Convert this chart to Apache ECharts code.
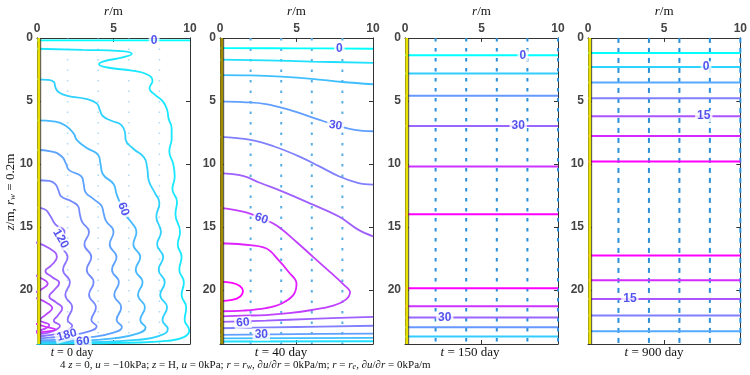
<!DOCTYPE html>
<html><head><meta charset="utf-8">
<script src="https://cdn.jsdelivr.net/npm/echarts@6/dist/echarts.min.js"></script>
<style>html,body{margin:0;padding:0;background:#fff}#c{width:750px;height:375px}</style>
</head><body><div id="c"></div>
<script>
// ---------- data ----------
const Z_MAX = 24.3;
const R_MAX = 10;
const Y_TICKS = [0, 5, 10, 15, 20];
const PANEL_TITLES = ['t = 0 day', 't = 40 day', 't = 150 day', 't = 900 day'];
const ARROW_R_12 = [2, 4, 6, 8];
const ARROW_R_34 = [2, 4, 6, 8, 10];
const WELL_FILL_R = 0.12;
const WELL_EDGE_R = 0.24;

// panel 1 (t = 0 day) contour lines, points [r, z]
const P1_L0 = [[0,0.2],[10,0.2]];
const P1_L20 = [[0,0.86],[3,0.95],[5.5,1.05],[6.2,1.25],[5.6,1.55],[4.4,1.85],[4.05,2.1],[4.6,2.35],[6.2,2.6],[7.1,2.85],[7.55,3.4],[7.35,4.0],[7.7,4.5],[8.2,5.0],[8.5,5.7],[8.6,6.4],[8.8,7.2],[8.8,8.0],[8.65,9.0],[8.9,10.0],[9.0,11.0],[8.85,12.0],[9.15,13.0],[9.05,14.0],[9.35,15.4],[9.2,16.4],[9.45,17.4],[9.3,18.4],[9.6,19.4],[9.45,20.4],[9.75,21.4],[9.65,22.4],[9.95,23.2],[9.6,23.75],[8.5,24.05],[6,24.2],[3,24.25],[0,24.28]];
const P1_L40 = [[0,3.3],[0.7,3.33],[1.1,3.5],[1.2,3.9],[1.4,4.3],[2.0,4.6],[3.2,4.85],[3.9,5.2],[4.1,5.7],[4.3,6.2],[4.9,6.6],[5.5,6.9],[5.75,7.5],[5.8,8.1],[6.3,8.8],[7.0,9.5],[7.2,10.3],[7.3,11.3],[7.7,12.3],[8.0,13.1],[7.8,14.2],[8.1,15.4],[7.85,16.4],[8.25,17.4],[7.95,18.4],[8.35,19.4],[8.05,20.4],[8.5,21.4],[8.2,22.4],[8.55,23.1],[8.0,23.65],[6.5,23.98],[3.5,24.15],[0,24.2]];
const P1_L60 = [[0,6.55],[1.2,6.65],[1.9,7.0],[2.4,7.6],[2.6,8.1],[3.2,8.7],[4.0,9.3],[4.15,10.0],[4.3,10.8],[5.0,11.6],[5.2,12.4],[5.45,13.2],[5.6,13.8],[6.2,14.7],[6.5,15.4],[6.3,16.4],[6.75,17.4],[6.45,18.4],[6.9,19.4],[6.6,20.4],[7.05,21.4],[6.75,22.4],[7.1,23.0],[6.5,23.5],[5,23.85],[2.5,24.05],[0,24.1]];
const P1_L80 = [[0,8.9],[0.9,9.0],[1.6,9.4],[1.9,10.0],[2.1,10.5],[2.9,11.0],[3.05,11.6],[3.15,12.2],[3.7,12.8],[4.2,13.3],[4.35,13.9],[4.5,14.5],[5.0,15.4],[4.75,16.4],[5.2,17.4],[4.9,18.4],[5.35,19.4],[5.05,20.4],[5.5,21.4],[5.2,22.4],[5.55,22.95],[5.0,23.4],[3.5,23.75],[1.5,23.95],[0,24.0]];
const P1_L100 = [[0,11.3],[0.8,11.35],[1.2,11.6],[1.4,12.1],[1.6,12.6],[2.3,13.0],[2.7,13.4],[2.8,14.0],[2.95,14.6],[3.4,15.4],[3.1,16.4],[3.55,17.4],[3.25,18.4],[3.7,19.4],[3.4,20.4],[3.85,21.4],[3.55,22.4],[3.9,22.9],[3.4,23.3],[2.2,23.6],[0.8,23.8],[0,23.85]];
const P1_L120 = [[0,13.5],[0.5,13.6],[0.85,14.1],[1.2,14.8],[1.8,15.4],[1.55,16.4],[2.0,17.4],[1.7,18.4],[2.15,19.4],[1.85,20.4],[2.3,21.4],[2.0,22.4],[2.3,22.85],[1.8,23.3],[0.8,23.6],[0,23.7]];
const P1_L140 = [[-0.2,16.2],[0.8,16.7],[1.3,17.4],[0.9,18.1],[0.55,18.5],[1.0,19.0],[1.45,19.45],[1.1,20.05],[0.8,20.5],[1.25,21.0],[1.65,21.45],[1.35,22.05],[1.1,22.45],[1.5,22.85],[1.1,23.25],[0.3,23.5],[0,23.55]];
const P1_L160 = [[-0.6,18.6],[0.3,19.1],[0.7,19.5],[0.3,19.95],[-0.3,20.4],[0.6,21.0],[1.0,21.45],[0.6,21.95],[0.2,22.4],[0.8,22.8],[0.5,23.1],[-0.2,23.3]];
const P1_L180 = [[-0.3,22.6],[0.6,22.95],[1.2,23.15],[0.7,23.3],[-0.3,23.4]];
const P1_LEVELS = [0, 20, 40, 60, 80, 100, 120, 140, 160, 180];
const P1_LINES = [P1_L0, P1_L20, P1_L40, P1_L60, P1_L80, P1_L100, P1_L120, P1_L140, P1_L160, P1_L180];

// panel 2 (t = 40 day)
const P2_L0 = [[0,0.81],[5,0.83],[10,0.86]];
const P2_L10 = [[0,1.72],[3,1.78],[6,1.88],[10,1.98]];
const P2_L20 = [[0,2.95],[2,2.98],[4,3.08],[6,3.25],[8,3.5],[10,3.68]];
const P2_L30 = [[0,5.04],[1.5,5.1],[3,5.25],[4.5,5.7],[6.3,6.42],[7.6,6.94],[8.8,7.3],[10,7.41]];
const P2_L40 = [[0,7.86],[2,8.1],[3.5,8.6],[5.2,9.42],[6.5,10.2],[7.8,11.0],[9,11.5],[10,11.64]];
const P2_L50A = [[0,10.73],[1.5,10.95],[2.6,11.5],[4.1,12.2],[6,13.2],[7.8,14.2],[9,15.2],[10,15.75]];
const P2_L60 = [[0,13.5],[1.5,13.8],[2.7,14.3],[3.7,14.9],[5,16.2],[6.1,17.4],[7.2,18.6],[8.1,19.6],[8.5,20.2],[8.2,20.8],[7.4,21.25],[6,21.6],[4.5,21.85],[3,22.0],[1.5,22.05],[0,22.1]];
const P2_L70 = [[0,16.3],[1.5,16.4],[3.0,16.7],[3.8,17.6],[4.5,18.6],[5.0,19.5],[4.8,20.4],[4.0,21.1],[3.0,21.45],[1.5,21.65],[0,21.7]];
const P2_L80 = [[0,19.35],[0.8,19.45],[1.3,19.7],[1.5,20.1],[1.3,20.55],[0.8,20.8],[0,20.9]];
const P2_L50B = [[0,22.55],[3,22.45],[6,22.3],[10,22.15]];
const P2_L40B = [[0,23.05],[5,22.95],[10,22.85]];
const P2_L30B = [[0,23.57],[5,23.52],[10,23.47]];
const P2_L20B = [[0,23.85],[10,23.82]];
const P2_L10B = [[0,24.1],[10,24.08]];
const P2_LEVELS = [0, 10, 20, 30, 40, 50, 60, 70, 80, 50, 40, 30, 20, 10];
const P2_LINES = [P2_L0, P2_L10, P2_L20, P2_L30, P2_L40, P2_L50A, P2_L60, P2_L70, P2_L80, P2_L50B, P2_L40B, P2_L30B, P2_L20B, P2_L10B];

// panel 3 (t = 150 day): horizontal contours
const P3_LEVELS = [0, 10, 20, 30, 40, 50, 50, 40, 30, 20, 10];
const P3_DEPTHS = [1.38, 2.82, 4.6, 7.0, 10.2, 14.0, 19.87, 21.3, 22.2, 22.97, 23.7];

// panel 4 (t = 900 day): horizontal contours
const P4_LEVELS = [-5, 0, 5, 10, 15, 20, 25, 25, 20, 15, 10, 5];
const P4_DEPTHS = [1.2, 2.32, 3.55, 4.8, 6.21, 7.78, 9.81, 17.28, 19.24, 20.73, 22.03, 23.28];

// contour labels [text, r, z, rotation]
const P1_LABELS = [['0',7.65,0.2,0],['60',5.65,13.6,-70],['120',1.55,15.95,-60],['180',1.95,23.6,15],['60',3.0,24.1,5]];
const P2_LABELS = [['0',7.8,0.83,0],['30',7.55,6.95,-8],['60',2.7,14.35,-20],['60',1.5,22.6,5],['30',2.7,23.55,0]];
const P3_LABELS = [['0',7.7,1.38,0],['30',7.4,7.0,0],['30',2.6,22.2,0]];
const P4_LABELS = [['0',7.75,2.32,0],['15',7.6,6.21,0],['15',2.75,20.73,0]];

// ---------- layout / style ----------
const GRID_LEFT = [37, 220, 405, 588];
const GRID_TOP = 33, GRID_W = 153, GRID_H = 311;
const CMAP = [[0,220],[0,80],[0,50],[-5,25]];
const SMOOTH = [0.5, 0.4, 0, 0];
const WELL_COLOR = ['#e8dc00', '#a08c00', '#e8e000', '#e8e000'];
const DOT_STYLE = [
  {color:'rgba(110,185,235,0.55)', width:1.5, type:[1.5,9]},
  {color:'#5aaee6', width:2, type:[2.5,8]},
  {color:'#2a8fd8', width:2, type:[3.5,6.5]},
  {color:'#2a8fd8', width:2, type:[5,5]}
];
const SERIF = "'Liberation Serif','DejaVu Serif',serif";
const SANS = "'Liberation Sans','DejaVu Sans',sans-serif";

function cool(v, lo, hi) {
  const t = Math.max(0, Math.min(1, (v - lo) / (hi - lo)));
  return 'rgb(' + Math.round(255 * t) + ',' + Math.round(255 * (1 - t)) + ',255)';
}
function rich(fs) {
  return {
    i: {fontStyle:'italic', fontFamily:SERIF, fontSize:fs, color:'#111'},
    s: {fontStyle:'italic', fontFamily:SERIF, fontSize:Math.round(fs*0.7), color:'#111', verticalAlign:'bottom'}
  };
}

const grid = [], xAxis = [], yAxis = [], series = [];
const axisCommon = {
  axisLine:{show:true, onZero:false, lineStyle:{color:'#333', width:1}},
  axisTick:{show:true, inside:true, length:4, lineStyle:{color:'#333'}},
  splitLine:{show:false}
};
for (let i = 0; i < 4; i++) {
  grid.push({left:GRID_LEFT[i], top:GRID_TOP, width:GRID_W, height:GRID_H});
  xAxis.push(Object.assign({gridIndex:i, type:'value', position:'top', min:0, max:R_MAX, interval:5,
    axisLabel:{margin:3, color:'#444', fontSize:12, fontWeight:'bold', fontFamily:SANS},
    name:'{i|r}/m', nameLocation:'middle', nameGap:19,
    nameTextStyle:{fontFamily:SERIF, fontSize:13, color:'#111', rich:rich(13)}}, axisCommon));
  xAxis.push(Object.assign({gridIndex:i, type:'value', position:'bottom', min:0, max:R_MAX, interval:5,
    axisLabel:{show:false}}, axisCommon));
  yAxis.push(Object.assign({gridIndex:i, type:'value', inverse:true, position:'left', min:0, max:Z_MAX, interval:5,
    axisLabel:{margin:4, color:'#444', fontSize:12, fontWeight:'bold', fontFamily:SANS,
      formatter: v => (Y_TICKS.indexOf(v) >= 0 ? String(v) : '')}}, axisCommon));
  yAxis.push(Object.assign({gridIndex:i, type:'value', inverse:true, position:'right', min:0, max:Z_MAX, interval:5,
    axisLabel:{show:false}}, axisCommon));
}

function addLine(i, pts, color, width) {
  series.push({type:'line', xAxisIndex:2*i, yAxisIndex:2*i, data:pts, symbol:'none',
    smooth:SMOOTH[i], silent:true, clip:true, z:3, lineStyle:{color:color, width:width}});
}

// dotted velocity columns and the drain well strip
const ARROWS = [ARROW_R_12, ARROW_R_12, ARROW_R_34, ARROW_R_34];
for (let i = 0; i < 4; i++) {
  ARROWS[i].forEach(r => {
    series.push({type:'line', xAxisIndex:2*i, yAxisIndex:2*i, data:[[r,0],[r,Z_MAX]], symbol:'none',
      silent:true, z:2, lineStyle:DOT_STYLE[i]});
  });
  series.push({type:'line', xAxisIndex:2*i, yAxisIndex:2*i, data:[[WELL_FILL_R,0],[WELL_FILL_R,Z_MAX]], symbol:'none',
    silent:true, z:6, lineStyle:{color:WELL_COLOR[i], width:3}});
  series.push({type:'line', xAxisIndex:2*i, yAxisIndex:2*i, data:[[WELL_EDGE_R,0],[WELL_EDGE_R,Z_MAX]], symbol:'none',
    silent:true, z:6, lineStyle:{color:'#222', width:0.8}});
}

P1_LINES.forEach((pts, k) => addLine(0, pts, cool(P1_LEVELS[k], CMAP[0][0], CMAP[0][1]), 1.8));
P2_LINES.forEach((pts, k) => addLine(1, pts, cool(P2_LEVELS[k], CMAP[1][0], CMAP[1][1]), 1.8));
P3_DEPTHS.forEach((d, k) => addLine(2, [[0,d],[R_MAX,d]], cool(P3_LEVELS[k], CMAP[2][0], CMAP[2][1]), 2));
P4_DEPTHS.forEach((d, k) => addLine(3, [[0,d],[R_MAX,d]], cool(P4_LEVELS[k], CMAP[3][0], CMAP[3][1]), 2));

[P1_LABELS, P2_LABELS, P3_LABELS, P4_LABELS].forEach((labs, i) => {
  series.push({type:'scatter', xAxisIndex:2*i, yAxisIndex:2*i, symbolSize:1, silent:true, z:8,
    itemStyle:{color:'rgba(0,0,0,0)'},
    label:{show:true, position:'inside', color:'#2b2bea', fontSize:12, fontWeight:'bold', fontFamily:SANS,
      backgroundColor:'#fff', padding:[0,2]},
    data: labs.map(l => ({value:[l[1], l[2]], label:{formatter:l[0], rotate:l[3]}}))
  });
});

const TITLE_X = [72, 281, 470, 654];
const graphic = [];
PANEL_TITLES.forEach((t, i) => {
  graphic.push({type:'text', x:TITLE_X[i], y:353, silent:true,
    style:{text:t.replace(/^t/, '{i|t}'), fontFamily:SERIF, fontSize:i === 0 ? 12 : 13, fill:'#111',
      rich:rich(i === 0 ? 12 : 13), align:'center', verticalAlign:'middle', textAlign:'center', textVerticalAlign:'middle'}});
});
graphic.push({type:'text', x:60, y:365, silent:true,
  style:{text:'4 {i|z} = 0, {i|u} = \u221210kPa; {i|z} = H, {i|u} = 0kPa; {i|r} = {i|r}{s|w}, \u2202{i|u}/\u2202{i|r} = 0kPa/m; {i|r} = {i|r}{s|e}, \u2202{i|u}/\u2202{i|r} = 0kPa/m',
    fontFamily:SERIF, fontSize:11, fill:'#111', rich:rich(11), align:'left', verticalAlign:'middle', textAlign:'left', textVerticalAlign:'middle'}});
graphic.push({type:'text', x:11, y:192, rotation:Math.PI/2, silent:true,
  style:{text:'{i|z}/m, {i|r}{s|w} = 0.2m', fontFamily:SERIF, fontSize:13, fill:'#111', rich:rich(13),
    align:'center', verticalAlign:'middle', textAlign:'center', textVerticalAlign:'middle'}});

const chart = echarts.init(document.getElementById('c'), null, {renderer:'canvas'});
chart.setOption({animation:false, backgroundColor:'#fff', grid, xAxis, yAxis, series, graphic});
</script></body></html>
